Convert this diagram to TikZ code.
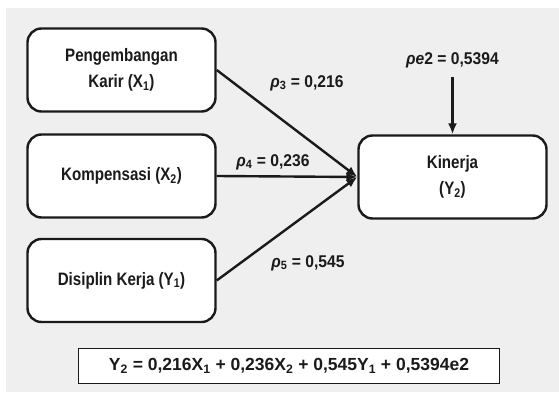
\documentclass[tikz,border=0pt]{standalone}
\usepackage{fontspec}
\setmainfont{Liberation Sans}
\newfontfamily\condfont[FakeStretch=0.84]{Liberation Sans}
\newfontfamily\coeffont[FakeStretch=0.92]{Liberation Sans}
\usetikzlibrary{arrows.meta}
\usetikzlibrary{positioning}

\definecolor{bggray}{HTML}{EFEFEF}
\definecolor{ink}{HTML}{1A1A1A}

\begin{document}
\begin{tikzpicture}[x=1pt,y=1pt,
		var/.style={draw=ink, line width=2.4pt, rounded corners=14pt, fill=white, minimum width=188pt, minimum height=83pt, align=center, text=ink, font=\condfont\bfseries\fontsize{18}{26}\selectfont},
		coef/.style={text=ink, font=\coeffont\bfseries\fontsize{17}{20}\selectfont},
		path/.style={draw=ink, line width=2.4pt, -{Latex[length=11pt, width=9pt]}}]
		\useasboundingbox (0,0) rectangle (559,394);
		\fill[bggray] (6,2) rectangle (559,386);
		
		\node[var] (karir) at (121.5, 324) {Pengembangan\\Karir (X\textsubscript{1})};
		\node[var] (komp) at (121.5, 218) {Kompensasi (X\textsubscript{2})};
		\node[var] (disiplin) at (121.5, 113.5) {Disiplin Kerja (Y\textsubscript{1})};
		\node[var] (kinerja) at (452.5, 217) {Kinerja\\(Y\textsubscript{2})};
		
		\node[coef] (p3) at (307, 311) {{\itshape ρ}\textsubscript{3} = 0,216};
		\node[coef] (p4) at (273, 232) {{\itshape ρ}\textsubscript{4} = 0,236};
		\node[coef] (p5) at (308, 131) {{\itshape ρ}\textsubscript{5} = 0,545};
		\node[coef] (pe2) at (452.5, 334) {{\itshape ρe}2 = 0,5394};
		
		\node[draw=ink, line width=1.2pt, fill=white, minimum width=421pt, minimum height=35pt, text=ink, font=\bfseries\fontsize{17.5}{20}\selectfont] (eq) at (289, 28) {Y\textsubscript{2} = 0,216X\textsubscript{1} + 0,236X\textsubscript{2} + 0,545Y\textsubscript{1} + 0,5394e2};
		
		\draw[path] (karir.east) -- (kinerja.west);
		\draw[path] (komp.east) -- (kinerja.west);
		\draw[path] (disiplin.east) -- (kinerja.west);
		\draw[path, shorten <=6pt] (pe2) -- (kinerja);
		\end{tikzpicture}
\end{document}
